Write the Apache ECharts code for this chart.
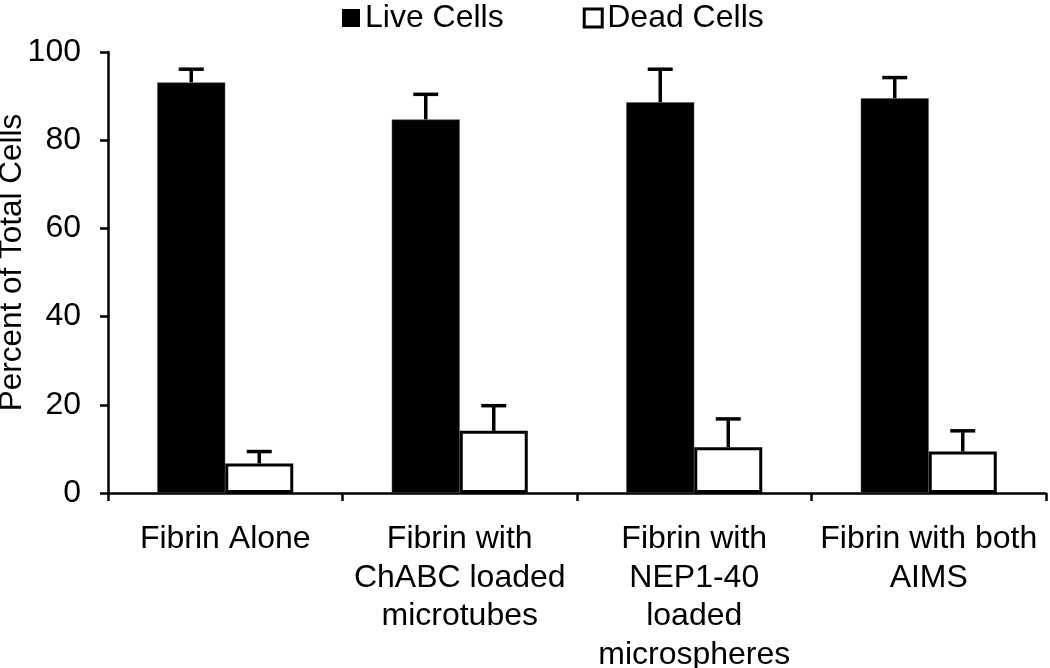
<!DOCTYPE html>
<html>
<head>
<meta charset="utf-8">
<script src="https://cdn.jsdelivr.net/npm/echarts@6/dist/echarts.min.js"></script>
<style>html,body{margin:0;padding:0;background:#fff;}#c{width:1050px;height:668px;}</style>
</head>
<body>
<div id="c"></div>
<script>
const categories = ['Fibrin Alone', 'Fibrin with\nChABC loaded\nmicrotubes', 'Fibrin with\nNEP1-40\nloaded\nmicrospheres', 'Fibrin with both\nAIMS'];
const liveCells = [93.1, 84.7, 88.6, 89.5];
const liveErrTop = [96.1, 90.4, 96.1, 94.2];
const deadCells = [6.7, 14.1, 10.4, 9.4];
const deadErrTop = [9.4, 19.8, 16.8, 14.1];
const yTicks = [0, 20, 40, 60, 80, 100];

const FONT = 'Liberation Sans, Arial, sans-serif';
const BAR_FRAC = 0.29;

function errSeries(name, values, tops, side) {
  return {
    type: 'custom',
    name: name + ' err',
    z: 1,
    silent: true,
    data: values.map((v, i) => [i, v, tops[i]]),
    renderItem: function (params, api) {
      const i = api.value(0);
      const cw = api.size([1, 0])[0];
      const bw = cw * BAR_FRAC;
      const base = api.coord([i, api.value(1)]);
      const top = api.coord([i, api.value(2)]);
      const x = base[0] + side * bw / 2;
      const cap = 12.5;
      const st = { stroke: '#000', lineWidth: 3.5 };
      return {
        type: 'group',
        children: [
          { type: 'line', shape: { x1: x, y1: base[1], x2: x, y2: top[1] }, style: st },
          { type: 'line', shape: { x1: x - cap, y1: top[1], x2: x + cap, y2: top[1] }, style: st }
        ]
      };
    }
  };
}

const chart = echarts.init(document.getElementById('c'));
chart.setOption({
  backgroundColor: '#fff',
  animation: false,
  textStyle: { fontFamily: FONT, color: '#000' },
  legend: {
    top: -3,
    left: 337,
    icon: 'rect',
    itemWidth: 18,
    itemHeight: 18,
    itemGap: 79,
    textStyle: { fontSize: 32, color: '#000', fontFamily: FONT },
    data: [
      { name: 'Live Cells', itemStyle: { color: '#000', borderColor: '#000', borderWidth: 0 } },
      { name: 'Dead Cells', itemStyle: { color: '#fff', borderColor: '#000', borderWidth: 3 } }
    ]
  },
  grid: { left: 108, right: 4, top: 52, bottom: 175, outerBoundsMode: 'none', containLabel: false },
  xAxis: {
    type: 'category',
    data: categories,
    axisLine: { lineStyle: { color: '#000', width: 2.5 } },
    axisTick: { show: true, length: 8, lineStyle: { color: '#000', width: 2.5 } },
    axisLabel: { fontSize: 32, color: '#000', fontFamily: FONT, lineHeight: 38.5, margin: 27, interval: 0 }
  },
  yAxis: {
    type: 'value',
    min: 0,
    max: 100,
    interval: 20,
    name: 'Percent of Total Cells',
    nameLocation: 'middle',
    nameGap: 80,
    nameMoveOverlap: false,
    nameTextStyle: { fontSize: 31.5, color: '#000', fontFamily: FONT, padding: [0, 0, 0, 20] },
    splitLine: { show: false },
    axisLine: { show: true, lineStyle: { color: '#000', width: 2.5 } },
    axisTick: { show: true, length: 8, lineStyle: { color: '#000', width: 2.5 } },
    axisLabel: {
      fontSize: 32, color: '#000', fontFamily: FONT, margin: 27,
      formatter: v => (yTicks.indexOf(v) >= 0 ? String(v) : '')
    }
  },
  series: [
    {
      name: 'Live Cells',
      type: 'bar',
      barWidth: (BAR_FRAC * 100) + '%',
      barGap: '0%',
      z: 2,
      itemStyle: { color: '#000', borderColor: '#555', borderWidth: 0.5 },
      data: liveCells
    },
    {
      name: 'Dead Cells',
      type: 'bar',
      barWidth: (BAR_FRAC * 100) + '%',
      barGap: '0%',
      z: 2,
      itemStyle: { color: '#fff', borderColor: '#000', borderWidth: 3 },
      data: deadCells
    },
    errSeries('Live Cells', liveCells, liveErrTop, -1),
    errSeries('Dead Cells', deadCells, deadErrTop, 1)
  ]
});
</script>
</body>
</html>
